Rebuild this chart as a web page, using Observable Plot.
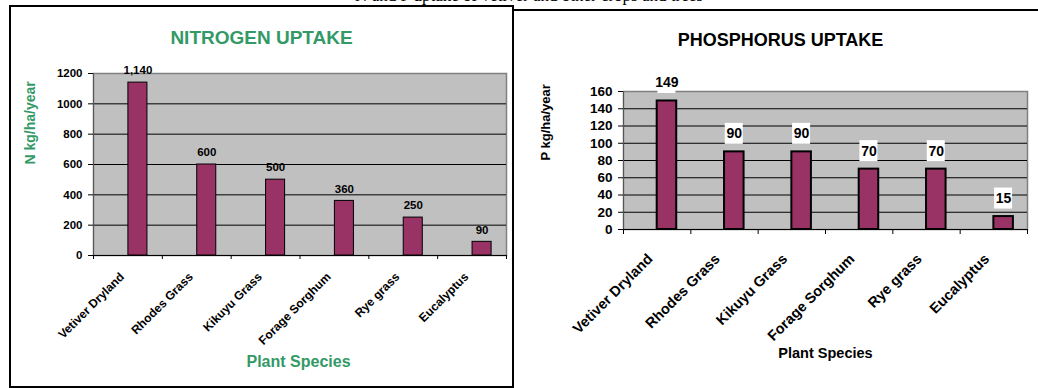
<!DOCTYPE html>
<html><head><meta charset="utf-8">
<script src="https://cdn.jsdelivr.net/npm/d3@7"></script>
<script src="https://cdn.jsdelivr.net/npm/@observablehq/plot@0.6"></script>
<style>
body{margin:0;background:#fff;width:1038px;height:388px;overflow:hidden;position:relative;font-family:"Liberation Sans",Arial,sans-serif}
#caption{position:absolute;top:-14px;left:0;width:1058px;text-align:center;font:17px "Liberation Serif",serif;white-space:nowrap}
#lbox{position:absolute;left:9px;top:5px;width:505px;height:383px;border:2px solid #000;box-sizing:border-box}
#rline{position:absolute;left:512px;top:9px;width:526px;border-top:2px solid #000}
#left{position:absolute;left:0;top:0}
#right{position:absolute;left:515px;top:0}
svg{overflow:visible}
</style></head><body>
<div id="caption">N and P uptake of vetiver and other crops and trees</div>
<div id="lbox"></div><div id="rline"></div>
<div id="left"></div><div id="right"></div>
<script>
const species = ["Vetiver Dryland","Rhodes Grass","Kikuyu Grass","Forage Sorghum","Rye grass","Eucalyptus"];
const nitrogen = [1140,600,500,360,250,90];
const phosphorus = [149,90,90,70,70,15];
const nTicks = [0,200,400,600,800,1000,1200];
const pTicks = [0,20,40,60,80,100,120,140,160];
const nTitle = "NITROGEN UPTAKE";
const pTitle = "PHOSPHORUS UPTAKE";
const nYLabel = "N kg/ha/year";
const pYLabel = "P kg/ha/year";
const xLabel = "Plant Species";

const green = "#339966";
const fmt = d3.format(",");

function chart(o) {
  const rows = species.map((s, i) => ({s, i, v: o.values[i]}));
  const n = species.length;
  const marks = [
    Plot.frame({fill: "#c0c0c0"}),
    Plot.frame({stroke: "#808080", strokeWidth: 1.5}),
    Plot.ruleY(o.ticks.slice(1, -1), {stroke: "#000", strokeWidth: 1}),
    Plot.ruleY([0], {stroke: "#000", strokeWidth: 1}),
    Plot.ruleX([0], {stroke: "#555", strokeWidth: 1}),
    Plot.axisY({ticks: o.ticks, tickSize: 5, tickPadding: 6, tickFormat: d => String(d), fontSize: o.tickFont, fontWeight: "bold", label: null, stroke: "#000"}),
    Plot.axisX({ticks: d3.range(n + 1), tickSize: o.xTick, tickFormat: () => "", label: null}),
    Plot.rectY(rows, {x1: d => d.i, x2: d => d.i + 1, y: "v", insetLeft: o.insetLeft, insetRight: o.insetRight, fill: "#993366", stroke: "#000", strokeWidth: o.barStroke})
  ];
  if (o.boxes) {
    marks.push(Plot.rect(rows, {x1: d => d.i + 0.5, x2: d => d.i + 0.5, y1: "v", y2: "v", insetLeft: -9, insetRight: -9, insetTop: -10.5, insetBottom: -10.5, dx: o.barDx, dy: o.valDy, fill: "#fff"}));
  }
  marks.push(
    Plot.text(rows, {x: d => d.i + 0.5, y: "v", text: d => fmt(d.v), dx: o.barDx, dy: o.valDy, fontSize: o.valFont, fontWeight: "bold", fill: "#000"}),
    Plot.text(rows, {x: d => d.i + 0.5, y: () => 0, text: "s", rotate: -45, textAnchor: "end", lineAnchor: "top", dx: o.catDx, dy: o.catDy, fontSize: o.catFont, fontWeight: "bold", fill: "#000"}),
    Plot.text([o.title], {frameAnchor: "top", text: d => d, dx: o.titleDx, dy: o.titleDy, fontSize: o.titleFont, fontWeight: "bold", fill: o.color}),
    Plot.text([o.yLabel], {frameAnchor: "left", text: d => d, rotate: -90, dx: o.yLabDx, fontSize: o.yLabFont, fontWeight: "bold", fill: o.color}),
    Plot.text([xLabel], {frameAnchor: "bottom", text: d => d, dx: o.xLabDx, dy: o.xLabDy, fontSize: o.xLabFont, fontWeight: "bold", fill: o.color})
  );
  return Plot.plot({
    width: o.width, height: 388,
    marginLeft: o.ml, marginRight: o.mr, marginTop: o.mt, marginBottom: o.mb,
    style: {fontFamily: '"Liberation Sans", Arial, sans-serif', color: "#000", background: "transparent"},
    x: {type: "linear", domain: [0, n], label: null},
    y: {domain: [o.ticks[0], o.ticks[o.ticks.length - 1]], label: null},
    marks
  });
}

document.getElementById("left").append(chart({
  values: nitrogen, ticks: nTicks, width: 515, ml: 93, mr: 9, mt: 73, mb: 133,
  tickFont: 11.5, xTick: 4, insetLeft: 34.9, insetRight: 14.9, barStroke: 1, barDx: 10,
  valDy: -12, valFont: 11.5, catDx: -9, catDy: 16, catFont: 12,
  title: nTitle, titleDx: -38.5, titleDy: -43, titleFont: 19, color: green,
  yLabel: nYLabel, yLabDx: -63, yLabFont: 14,
  xLabDx: -1.5, xLabDy: 111, xLabFont: 16, boxes: false
}));

document.getElementById("right").append(chart({
  values: phosphorus, ticks: pTicks, width: 523, ml: 108, mr: 11, mt: 91, mb: 159,
  tickFont: 13.5, xTick: 5, insetLeft: 33.7, insetRight: 14.1, barStroke: 2, barDx: 9.75,
  valDy: -18, valFont: 14, catDx: -11, catDy: 23, catFont: 14.5,
  title: pTitle, titleDx: -45, titleDy: -58, titleFont: 18, color: "#000",
  yLabel: pYLabel, yLabDx: -78, yLabFont: 13,
  xLabDx: 0, xLabDy: 128, xLabFont: 14.5, boxes: true
}));
</script>
</body></html>
